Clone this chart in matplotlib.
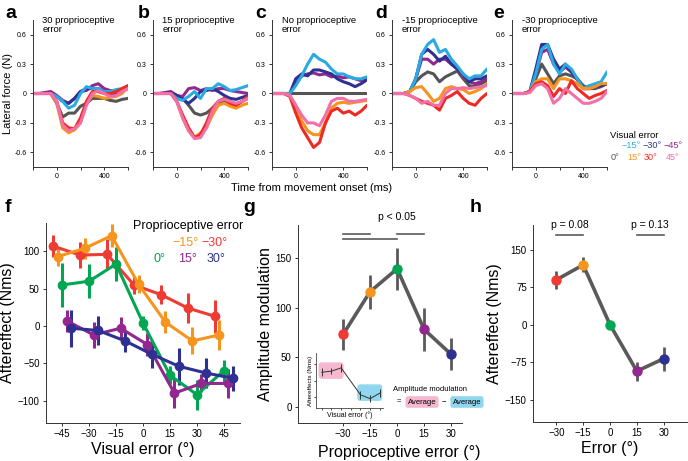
import matplotlib
matplotlib.use("Agg")
import matplotlib.pyplot as plt
from matplotlib.patches import FancyBboxPatch
import numpy as np

plt.rcParams['font.family'] = ['Liberation Sans', 'DejaVu Sans']

W, H = 688, 461

# ---------------- data: force traces (panels a-e) ----------------
t = [-200, -150, -100, -50, 0, 50, 100, 150, 200, 250, 300, 350, 400, 450, 500, 550, 600]

vis_labels = ['0°', '15°', '30°', '45°', '−15°', '−30°', '−45°']
vis_colors = {'0°': '#555555', '15°': '#F7941D', '30°': '#EE2A24', '45°': '#F36FA8',
              '−15°': '#29ABE2', '−30°': '#2E3192', '−45°': '#92278F'}

panel_titles = ['30 proprioceptive\nerror', '15 proprioceptive\nerror', 'No proprioceptive\nerror',
                '-15 proprioceptive\nerror', '-30 proprioceptive\nerror']

force_a = {
    '0°':   [0, 0, 0, 0, -0.1, -0.24, -0.2, -0.2, -0.13, -0.1, -0.05, -0.05, -0.05, -0.07, -0.08, -0.06, -0.05],
    '−45°': [0, 0, 0.01, 0.02, -0.02, -0.07, -0.1, -0.05, 0.02, 0.03, 0.08, 0.1, 0.05, 0.03, 0.02, 0.03, 0.06],
    '−30°': [0, 0, 0, 0, -0.03, -0.08, -0.1, -0.05, 0.02, 0.05, 0.05, 0.05, 0.02, -0.02, 0.0, 0.03, 0.05],
    '−15°': [0, 0, 0, 0, -0.03, -0.08, -0.15, -0.12, 0.0, 0.07, 0.05, 0.05, 0.02, 0.02, 0.04, 0.05, 0.08],
    '15°':  [0, 0, 0, 0, -0.1, -0.35, -0.4, -0.37, -0.3, -0.1, -0.02, -0.03, -0.05, -0.04, -0.03, 0.0, 0.07],
    '30°':  [0, 0, 0, 0, -0.08, -0.3, -0.35, -0.36, -0.25, -0.08, 0.02, 0.02, 0.0, 0.0, 0.02, 0.05, 0.08],
    '45°':  [0, 0, 0, 0, -0.08, -0.32, -0.38, -0.36, -0.3, -0.12, 0.0, 0.03, 0.0, -0.03, -0.02, 0.02, 0.05],
}
force_b = {
    '0°':   [0, 0, 0, 0, -0.02, -0.05, -0.12, -0.2, -0.22, -0.2, -0.15, -0.1, -0.08, -0.1, -0.12, -0.08, -0.05],
    '−45°': [0, 0, 0.01, 0.02, -0.02, -0.03, 0.05, 0.06, 0.03, 0.05, 0.03, 0.05, 0.05, 0.03, 0.02, 0.01, 0.0],
    '−30°': [0, 0, 0, 0.01, -0.02, -0.06, -0.1, -0.05, 0.02, 0.03, 0.05, 0.02, -0.02, -0.05, -0.06, -0.04, -0.02],
    '−15°': [0, 0, 0, 0, -0.05, -0.07, -0.03, 0.02, -0.05, 0.05, 0.05, 0.1, 0.07, 0.03, 0.04, 0.06, 0.08],
    '15°':  [0, 0, 0, 0, -0.08, -0.25, -0.38, -0.45, -0.4, -0.35, -0.22, -0.12, -0.1, -0.13, -0.15, -0.12, -0.1],
    '30°':  [0, 0, 0, 0, -0.08, -0.22, -0.35, -0.45, -0.42, -0.3, -0.15, -0.08, -0.05, -0.1, -0.12, -0.08, -0.03],
    '45°':  [0, 0, 0, 0, -0.08, -0.25, -0.38, -0.46, -0.45, -0.35, -0.18, -0.08, -0.06, -0.08, -0.1, -0.08, -0.05],
}
force_c = {
    '0°':   [0, 0, 0, 0, 0, 0, 0, 0, 0, 0, 0, 0, 0, 0, 0, 0, 0],
    '−45°': [0, 0, 0, 0, 0.1, 0.18, 0.2, 0.21, 0.19, 0.2, 0.17, 0.18, 0.16, 0.17, 0.15, 0.13, 0.15],
    '−30°': [0, 0, 0, 0, 0.15, 0.2, 0.18, 0.24, 0.24, 0.22, 0.2, 0.15, 0.12, 0.1, 0.07, 0.1, 0.14],
    '−15°': [0, 0, 0, 0, 0.08, 0.18, 0.3, 0.4, 0.35, 0.32, 0.25, 0.2, 0.2, 0.17, 0.15, 0.15, 0.17],
    '15°':  [0, 0, 0, -0.02, -0.12, -0.28, -0.38, -0.42, -0.42, -0.3, -0.15, -0.1, -0.09, -0.1, -0.09, -0.08, -0.07],
    '30°':  [0, 0, 0, -0.03, -0.2, -0.35, -0.45, -0.55, -0.5, -0.3, -0.18, -0.15, -0.2, -0.18, -0.22, -0.18, -0.12],
    '45°':  [0, 0, 0, -0.02, -0.12, -0.22, -0.3, -0.3, -0.33, -0.22, -0.08, -0.05, -0.05, -0.08, -0.08, -0.07, -0.06],
}
force_d = {
    '0°':   [0, 0, 0, 0.02, 0.12, 0.18, 0.22, 0.2, 0.12, 0.17, 0.2, 0.23, 0.15, 0.08, 0.07, 0.1, 0.13],
    '−45°': [0, 0, 0, 0.02, 0.15, 0.35, 0.35, 0.3, 0.35, 0.35, 0.3, 0.25, 0.18, 0.12, 0.1, 0.12, 0.15],
    '−30°': [0, 0, 0, 0.02, 0.15, 0.4, 0.45, 0.4, 0.33, 0.38, 0.3, 0.25, 0.2, 0.12, 0.15, 0.15, 0.18],
    '−15°': [0, 0, 0, 0.02, 0.15, 0.4, 0.5, 0.55, 0.42, 0.45, 0.35, 0.28, 0.2, 0.15, 0.18, 0.18, 0.25],
    '15°':  [0, 0, 0, 0.02, 0.06, 0.07, 0.0, -0.08, -0.05, 0.05, 0.07, 0.05, 0.04, 0.0, 0.02, 0.05, 0.1],
    '30°':  [0, 0, 0, -0.02, -0.05, -0.08, -0.1, -0.12, -0.17, -0.05, -0.02, 0.02, -0.05, -0.1, -0.12, -0.05, 0.0],
    '45°':  [0, 0, 0, -0.02, -0.05, -0.1, -0.08, -0.12, -0.12, 0.0, 0.05, 0.05, 0.06, 0.05, 0.06, 0.07, 0.08],
}
force_e = {
    '0°':   [0, 0, 0, 0.02, 0.15, 0.3, 0.2, 0.1, 0.18, 0.2, 0.18, 0.15, 0.08, 0.05, 0.05, 0.07, 0.1],
    '−45°': [0, 0, 0, 0.02, 0.2, 0.42, 0.45, 0.3, 0.22, 0.27, 0.22, 0.14, 0.05, 0.05, 0.07, 0.08, 0.1],
    '−30°': [0, 0, 0, 0.02, 0.25, 0.5, 0.5, 0.35, 0.25, 0.3, 0.22, 0.15, 0.05, 0.05, 0.07, 0.08, 0.1],
    '−15°': [0, 0, 0, 0.02, 0.2, 0.45, 0.5, 0.3, 0.2, 0.3, 0.25, 0.15, 0.05, 0.08, 0.1, 0.12, 0.22],
    '15°':  [0, 0, 0, 0.02, 0.12, 0.15, 0.15, 0.05, 0.15, 0.15, 0.13, 0.1, 0.05, 0.05, 0.07, 0.1, 0.1],
    '30°':  [0, 0, 0, 0.02, 0.1, 0.12, 0.08, -0.03, 0.05, 0.0, 0.13, 0.05, 0.0, -0.05, -0.02, 0.0, 0.03],
    '45°':  [0, 0, 0, 0.01, 0.08, 0.1, 0.05, -0.1, -0.05, 0.05, 0.0, -0.05, -0.1, -0.1, -0.08, -0.05, 0.02],
}
forces = [force_a, force_b, force_c, force_d, force_e]
draw_order = ['0°', '−45°', '−30°', '−15°', '15°', '30°', '45°']

# ---------------- data: panel f ----------------
visual_err = [-45, -30, -15, 0, 15, 30, 45]
prop_names = ['−30°', '−15°', '0°', '15°', '30°']
prop_colors = ['#EE3B33', '#F7941D', '#00A651', '#92278F', '#2E3192']
ae_mean = [
    [107, 95, 96, 55, 42, 24, 13],
    [93, 104, 121, 56, 5, -20, -12],
    [55, 60, 83, 4, -66, -92, -60],
    [7, -12, -3, -25, -90, -77, -77],
    [-3, -6, -20, -38, -54, -63, -70],
]
ae_sem = [
    [15, 17, 20, 12, 13, 20, 22],
    [12, 14, 15, 12, 15, 18, 20],
    [30, 23, 23, 10, 12, 20, 15],
    [15, 18, 15, 15, 20, 12, 20],
    [25, 20, 15, 18, 25, 20, 17],
]

# ---------------- data: panels g, h ----------------
prop_err = [-30, -15, 0, 15, 30]
gh_colors = ['#EE3B33', '#F7941D', '#00A651', '#92278F', '#2E3192']
amp_mod = [73, 116, 139, 78, 53]
amp_sem = [16, 17, 21, 22, 16]
err_ae = [90, 120, 0, -93, -68]
err_sem = [18, 15, 0, 19, 24]

inset_x = [-45, -30, -15, 15, 30, 45]
inset_y = [0.65, 0.67, 0.73, 0.24, 0.17, 0.27]
inset_e = [0.07, 0.06, 0.07, 0.07, 0.06, 0.07]


def rect(l, t_, r, b):
    return [l / W, 1 - b / H, (r - l) / W, (b - t_) / H]


def fx(x, y):
    return x / W, 1 - y / H


fig = plt.figure(figsize=(W / 100, H / 100), dpi=100)

spine_c = '#333333'


def style(ax, fs):
    for s in ['top', 'right']:
        ax.spines[s].set_visible(False)
    for s in ['left', 'bottom']:
        ax.spines[s].set_linewidth(0.7)
        ax.spines[s].set_color(spine_c)
    ax.tick_params(labelsize=fs, length=2.5, width=0.7, color=spine_c, pad=2)


# ---------------- top row ----------------
lefts = [33, 153, 272, 392, 512]
letters = ['a', 'b', 'c', 'd', 'e']
letter_x = [5, 138, 255, 375, 493]
for i in range(5):
    ax = fig.add_axes(rect(lefts[i], 20, lefts[i] + 95, 167))
    style(ax, 5)
    for k in draw_order:
        ax.plot(t, forces[i][k], color=vis_colors[k], lw=2.2, solid_joinstyle='round',
                solid_capstyle='round')
    ax.set_xlim(-200, 600)
    ax.set_ylim(-0.75, 0.75)
    ax.set_xticks([-200, 0, 200, 400, 600])
    ax.set_xticklabels(['', '0', '', '400', ''])
    ax.set_yticks([-0.6, -0.3, 0, 0.3, 0.6])
    ax.set_yticklabels(['-0.6', '-0.3', '0', '0.3', '0.6'])
    ax.text(0.1, 1.03, panel_titles[i], transform=ax.transAxes, fontsize=6.8,
            va='top', ha='left', linespacing=1.0)
    fig.text(*fx(letter_x[i], 13), letters[i], fontsize=14, fontweight='bold', va='center')
    if i == 0:
        ax.set_ylabel('Lateral force (N)', fontsize=8, labelpad=1)

fig.text(*fx(312, 188), 'Time from movement onset (ms)', fontsize=8, ha='center', va='center')

# visual error legend
fig.text(*fx(610, 136), 'Visual error', fontsize=6.8, va='center')
leg_pos = {'−15°': (622, 146), '−30°': (643, 146), '−45°': (664, 146),
           '0°': (611, 157), '15°': (627, 157), '30°': (644, 157), '45°': (666, 157)}
for k, (px, py) in leg_pos.items():
    fig.text(*fx(px, py), k, color=vis_colors[k], fontsize=6.6, va='center')

# ---------------- panel f ----------------
axf = fig.add_axes(rect(46, 223, 240, 423))
style(axf, 7)
offsets = [-5, -2.5, 0, 2.5, 5]
for j in range(5):
    xs = np.array(visual_err) + offsets[j]
    axf.errorbar(xs, ae_mean[j], yerr=ae_sem[j], color=prop_colors[j], lw=2.2,
                 elinewidth=2.2, marker='o', ms=6, capsize=0)
axf.set_xlim(-54, 54)
axf.set_ylim(-130, 138)
axf.set_xticks(visual_err)
axf.set_yticks([-100, -50, 0, 50, 100])
axf.set_xlabel('Visual error (°)', fontsize=11.5, labelpad=2)
axf.set_ylabel('Aftereffect (Nms)', fontsize=11.5, labelpad=2)
fig.text(*fx(5, 207), 'f', fontsize=14, fontweight='bold', va='center')
fig.text(*fx(133, 226), 'Proprioceptive error', fontsize=9, va='center')
f_leg = [('−15°', 172, 243, 1), ('−30°', 201, 243, 0), ('0°', 154, 259, 2),
         ('15°', 178, 259, 3), ('30°', 207, 259, 4)]
for lab, px, py, ci in f_leg:
    fig.text(*fx(px, py), lab, color=prop_colors[ci], fontsize=9, va='center')

# ---------------- panel g ----------------
axg = fig.add_axes(rect(298, 225, 462, 423))
style(axg, 7)
axg.plot(prop_err, amp_mod, color='#5A5A5A', lw=2.6, zorder=1)
for j in range(5):
    axg.errorbar(prop_err[j], amp_mod[j], yerr=amp_sem[j], color='#5A5A5A', elinewidth=2,
                 capsize=0, zorder=1)
    axg.plot(prop_err[j], amp_mod[j], 'o', color=gh_colors[j], ms=6.5, zorder=3)
axg.set_xlim(-55, 36)
axg.set_ylim(-16, 183)
axg.set_xticks(prop_err)
axg.set_yticks([0, 50, 100, 150])
axg.set_xlabel('Proprioceptive error (°)', fontsize=11.5, labelpad=2)
axg.xaxis.set_label_coords(0.62, -0.11)
axg.set_ylabel('Amplitude modulation', fontsize=11.5, labelpad=2)
fig.text(*fx(243, 207), 'g', fontsize=14, fontweight='bold', va='center')
for x0, x1, yy in [(-30, -15, 174), (-30, 0, 169), (0, 15, 174)]:
    axg.plot([x0, x1], [yy, yy], color='#5A5A5A', lw=1.2, clip_on=False)
axg.text(0, 186, 'p < 0.05', fontsize=7.5, ha='center', va='bottom')

# inset
axi = fig.add_axes(rect(316, 353, 383, 408))
for s in ['top', 'right']:
    axi.spines[s].set_visible(False)
for s in ['left', 'bottom']:
    axi.spines[s].set_linewidth(0.6)
    axi.spines[s].set_color('#444444')
axi.patch.set_alpha(0)
axi.set_xlim(-54, 50)
axi.set_ylim(0, 1)
axi.add_patch(FancyBboxPatch((-50, 0.53), 39, 0.3, boxstyle='round,pad=0,rounding_size=4',
                             fc='#F5B8CF', ec='none', zorder=0, mutation_aspect=0.02))
axi.add_patch(FancyBboxPatch((10, 0.13), 39, 0.3, boxstyle='round,pad=0,rounding_size=4',
                             fc='#8FD6EE', ec='none', zorder=0, mutation_aspect=0.02))
axi.errorbar(inset_x, inset_y, yerr=inset_e, color='#333333', lw=0.7, elinewidth=0.7,
             capsize=0)
axi.set_xticks([-45, -30, -15, 0, 15, 30, 45])
axi.set_yticks([0.2, 0.5, 0.8])
axi.tick_params(length=1.5, width=0.5, labelleft=False, labelbottom=False)
axi.set_ylabel('Aftereffects (Nms)', fontsize=4.5, labelpad=1)
axi.set_xlabel('Visual error (°)', fontsize=5, labelpad=1)

fig.text(*fx(393, 389), 'Amplitude modulation', fontsize=5.5, va='center')
fig.text(*fx(397, 402), '=', fontsize=5.5, va='center')
fig.text(*fx(422, 402), 'Average', fontsize=5.5, va='center', ha='center',
         bbox=dict(boxstyle='round,pad=0.3', fc='#F5B8CF', ec='none'))
fig.text(*fx(444, 402), '−', fontsize=5.5, va='center', ha='center')
fig.text(*fx(467, 402), 'Average', fontsize=5.5, va='center', ha='center',
         bbox=dict(boxstyle='round,pad=0.3', fc='#8FD6EE', ec='none'))

# ---------------- panel h ----------------
axh = fig.add_axes(rect(533, 225, 687, 422))
style(axh, 7)
axh.plot(prop_err, err_ae, color='#5A5A5A', lw=2.6, zorder=1)
for j in range(5):
    if err_sem[j] > 0:
        axh.errorbar(prop_err[j], err_ae[j], yerr=err_sem[j], color='#5A5A5A', elinewidth=2,
                     capsize=0, zorder=1)
    axh.plot(prop_err[j], err_ae[j], 'o', color=gh_colors[j], ms=6.5, zorder=3)
axh.set_xlim(-43, 43)
axh.set_ylim(-195, 200)
axh.set_xticks(prop_err)
axh.set_yticks([-150, -75, 0, 75, 150])
axh.set_xlabel('Error (°)', fontsize=11.5, labelpad=2)
axh.set_ylabel('Aftereffect (Nms)', fontsize=11.5, labelpad=2)
fig.text(*fx(470, 207), 'h', fontsize=14, fontweight='bold', va='center')
for x0, x1, lab in [(-30, -15, 'p = 0.08'), (15, 30, 'p = 0.13')]:
    axh.plot([x0, x1], [180, 180], color='#5A5A5A', lw=1.2, clip_on=False)
    axh.text((x0 + x1) / 2, 190, lab, fontsize=7.5, ha='center', va='bottom')

fig.savefig('out.png', dpi=100)
